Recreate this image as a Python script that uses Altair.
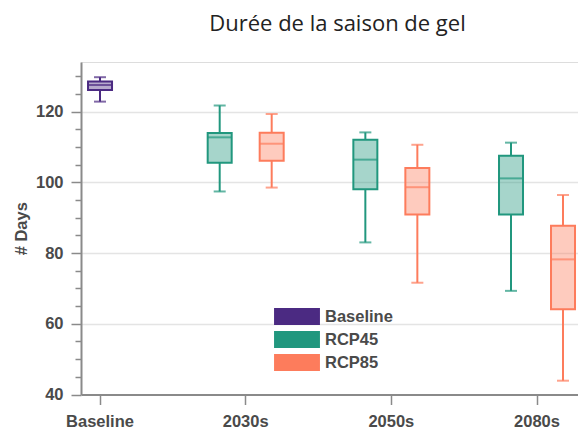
import altair as alt
import pandas as pd

# ---- data ----
periods = ["Baseline", "2030s", "2050s", "2080s"]
scenarios = ["Baseline", "RCP45", "RCP85"]
colors = ["#4b2a82", "#21977e", "#fd7c5c"]

row_period = ["Baseline", "2030s", "2030s", "2050s", "2050s", "2080s", "2080s"]
row_scenario = ["Baseline", "RCP45", "RCP85", "RCP45", "RCP85", "RCP45", "RCP85"]
mins = [122.8, 97.4, 98.5, 83.0, 71.6, 69.3, 43.9]
q1s = [126.1, 105.5, 106.1, 98.0, 90.9, 90.9, 64.1]
medians = [127.5, 112.7, 110.9, 106.4, 98.6, 101.1, 78.2]
q3s = [128.5, 113.9, 114.0, 112.0, 104.0, 107.5, 87.7]
maxs = [129.7, 121.7, 119.3, 114.1, 110.6, 111.2, 96.4]

y_ticks = [40, 45, 50, 55, 60, 65, 70, 75, 80, 85, 90, 95, 100, 105, 110, 115, 120, 125, 130]

df = pd.DataFrame({
    "period": row_period,
    "scenario": row_scenario,
    "min": mins,
    "q1": q1s,
    "median": medians,
    "q3": q3s,
    "max": maxs,
})

FONT = "Liberation Sans"
AXC = "#8a8a8a"

x_enc = alt.X(
    "period:N",
    sort=periods,
    scale=alt.Scale(domain=periods, paddingInner=1, paddingOuter=0.206, align=0.317),
    axis=alt.Axis(
        title=None, labelAngle=0, tickSize=10, tickColor=AXC, tickWidth=1.5,
        domainColor=AXC, domainWidth=2, labelPadding=9, labelFont=FONT,
        labelFontWeight="bold", labelFontSize=16.5, labelColor="#4a4a4a", grid=False,
    ),
)
xo_enc = alt.XOffset(
    "scenario:N",
    scale=alt.Scale(domain=["RCP45", "Baseline", "RCP85"], range=[-39, 39], paddingInner=0, paddingOuter=0),
)
y_scale = alt.Scale(domain=[40, 134], nice=False, zero=False)
y_axis = alt.Axis(
    values=y_ticks, title="# Days", titleFont=FONT, titleFontWeight="bold", titleFontSize=16.5,
    titleColor="#4a4a4a", titlePadding=6,
    labelExpr="datum.value % 20 === 0 ? datum.label : ''",
    labelFont=FONT, labelFontWeight="bold", labelFontSize=16.5, labelColor="#4a4a4a", labelPadding=8,
    tickSize={"condition": {"test": "datum.value % 20 === 0", "value": 10}, "value": 6},
    tickColor=AXC, tickWidth=1.5, domainColor=AXC, domainWidth=2,
    grid=True,
    gridColor={"condition": {"test": "datum.value % 20 === 0 && datum.value > 40", "value": "#e4e4e4"}, "value": "transparent"},
    gridWidth=1.5,
)

cscale = alt.Scale(domain=scenarios, range=colors)
legend = alt.Legend(
    title=None, orient="none", legendX=207.5, legendY=246,
    symbolType="M-2.7,-1H2.7V1H-2.7Z", symbolSize=289, symbolStrokeWidth=0,
    symbolOpacity=1, labelFont=FONT, labelFontWeight="bold", labelFontSize=16.5,
    labelColor="#4a4a4a", rowPadding=6, labelOffset=19.5,
)
color_enc = alt.Color("scenario:N", scale=cscale, legend=legend)

base = alt.Chart(df).encode(x=x_enc, xOffset=xo_enc)

box = base.mark_bar(size=24, fillOpacity=0.4, strokeWidth=2).encode(
    y=alt.Y("q1:Q", scale=y_scale, axis=y_axis), y2="q3:Q",
    color=color_enc,
    stroke=alt.Stroke("scenario:N", scale=cscale, legend=legend),
)
whisk_lo = base.mark_rule(strokeWidth=2).encode(
    y=alt.Y("min:Q", scale=y_scale, axis=y_axis), y2="q1:Q", color=color_enc)
whisk_hi = base.mark_rule(strokeWidth=2).encode(
    y=alt.Y("q3:Q", scale=y_scale, axis=y_axis), y2="max:Q", color=color_enc)
med = base.mark_tick(thickness=2, size=24).encode(
    y=alt.Y("median:Q", scale=y_scale, axis=y_axis), color=color_enc)
cap_lo = base.mark_tick(thickness=2, size=12).encode(
    y=alt.Y("min:Q", scale=y_scale, axis=y_axis), color=color_enc)
cap_hi = base.mark_tick(thickness=2, size=12).encode(
    y=alt.Y("max:Q", scale=y_scale, axis=y_axis), color=color_enc)

chart = alt.layer(box, whisk_lo, whisk_hi, med, cap_lo, cap_hi).properties(
    width=497, height=332.5,
    title=alt.TitleParams(
        "Durée de la saison de gel", font="Open Sans", fontSize=22, fontWeight="normal",
        color="#222222", anchor="middle", offset=26, dx=8,
    ),
    padding={"left": 5, "top": 5, "right": 0, "bottom": 5},
).configure_view(stroke=None).configure(background="white")

chart.save("out.html", embed_options={"renderer": "svg", "actions": False})
